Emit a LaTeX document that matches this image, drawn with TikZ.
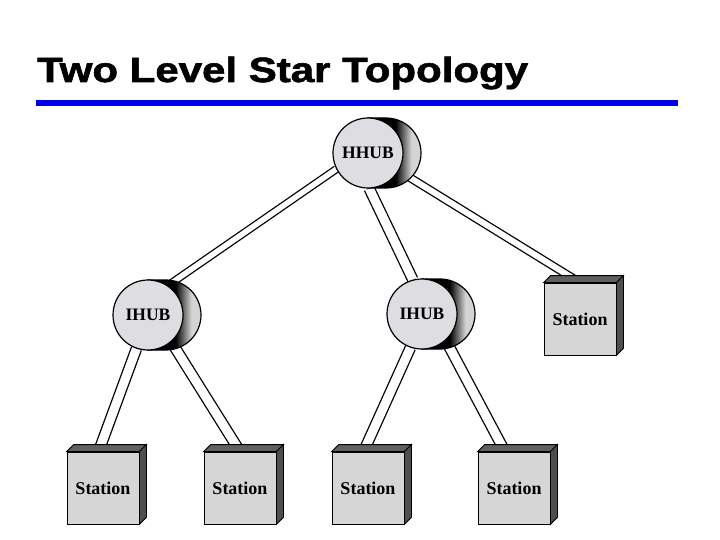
\documentclass[tikz,border=0pt]{standalone}
\usepackage{fontspec}
\setmainfont{Liberation Serif}
\newfontfamily\titlefont[FakeBold=1.6]{Liberation Sans Bold}
\usetikzlibrary{backgrounds,calc}
\definecolor{hubgray}{RGB}{221,221,226}
\definecolor{hubrim}{RGB}{212,212,212}
\definecolor{stgray}{RGB}{214,214,214}
\definecolor{stdark}{RGB}{96,96,96}
\definecolor{stside}{RGB}{78,78,78}
\definecolor{titleblue}{RGB}{0,0,232}
\pgfdeclarehorizontalshading{hubshade}{100bp}{color(0bp)=(black); color(25bp)=(black); color(51bp)=(black); color(66bp)=(hubrim); color(75bp)=(hubrim); color(100bp)=(hubrim)}
\pgfdeclarelayer{mid}
\pgfsetlayers{background,mid,main}
\begin{document}
\begin{tikzpicture}[x=1pt,y=-1pt,
  hubface/.style={circle, draw=black, line width=1.2pt, fill=hubgray, minimum size=70pt, inner sep=0pt,
    font=\bfseries\fontsize{17.5}{20}\selectfont},
  stface/.style={rectangle, draw=black, line width=0.8pt, fill=stgray, minimum width=72pt, minimum height=72pt,
    inner sep=0pt, font=\bfseries\fontsize{18}{20}\selectfont},
  hubback/.style={shading=hubshade, draw=black, line width=1.2pt},
  topface/.style={fill=stdark, draw=black, line width=0.8pt},
  sideface/.style={fill=stside, draw=black, line width=0.8pt},
  link/.style={draw=black, line width=1.3pt, double=white, double distance=#1},
  link/.default=8pt,
  rule/.style={line width=5.5pt, draw=titleblue}
]
\useasboundingbox (0,0) rectangle (720,540);
\begin{pgfonlayer}{background}
  \fill[white] (0,0) rectangle (720,540);
\end{pgfonlayer}

% title
\node[anchor=base west, inner sep=0pt] (title) at (37,82)
  {\scalebox{1.2}[1]{\titlefont\fontsize{35}{40}\selectfont Two Level Star Topology}};
\coordinate (ruleL) at (36,103);
\coordinate (ruleR) at (678,103);
\draw[rule] (ruleL) -- (ruleR);

% hubs
\node[hubface] (hh) at (368,153) {HHUB};
\node[hubface] (ihl) at (148,315) {IHUB};
\node[hubface] (ihr) at (422,314) {IHUB};

% stations
\node[stface] (sr) at (580,319) {Station};
\node[stface] (s1) at (103,488) {Station};
\node[stface] (s2) at (240,488) {Station};
\node[stface] (s3) at (368,488) {Station};
\node[stface] (s4) at (514,488) {Station};

% 3D parts
\begin{pgfonlayer}{mid}
  \foreach \h in {hh,ihl,ihr}{
    \shade[hubback] ($(\h.center)+(0,-35)$) -- ++(18,0)
      arc[start angle=90, end angle=-90, radius=35pt] -- ++(-18,0) -- cycle;
  }
  \foreach \s in {sr,s1,s2,s3,s4}{
    \draw[topface] (\s.north west) -- ++(7,-7) -- ($(\s.north east)+(7,-7)$) -- (\s.north east) -- cycle;
    \draw[sideface] (\s.north east) -- ++(7,-7) -- ($(\s.south east)+(7,-7)$) -- (\s.south east) -- cycle;
  }
\end{pgfonlayer}

% connectors
\begin{pgfonlayer}{background}
  \draw[link=5.5pt] (hh.207) -- (ihl.56);
  \draw[link=9pt] (hh.272) -- (ihr.105);
  \draw[link=6pt] (hh.-30) -- (sr.north);
  \draw[link=9pt] (ihl.251) -- (s1.97);
  \draw[link=9pt] (ihl.-49) -- (s2.north);
  \draw[link=9pt] (ihr.251) -- (s3.97);
  \draw[link=9pt] (ihr.-48) -- (s4.104);
\end{pgfonlayer}
\end{tikzpicture}
\end{document}
